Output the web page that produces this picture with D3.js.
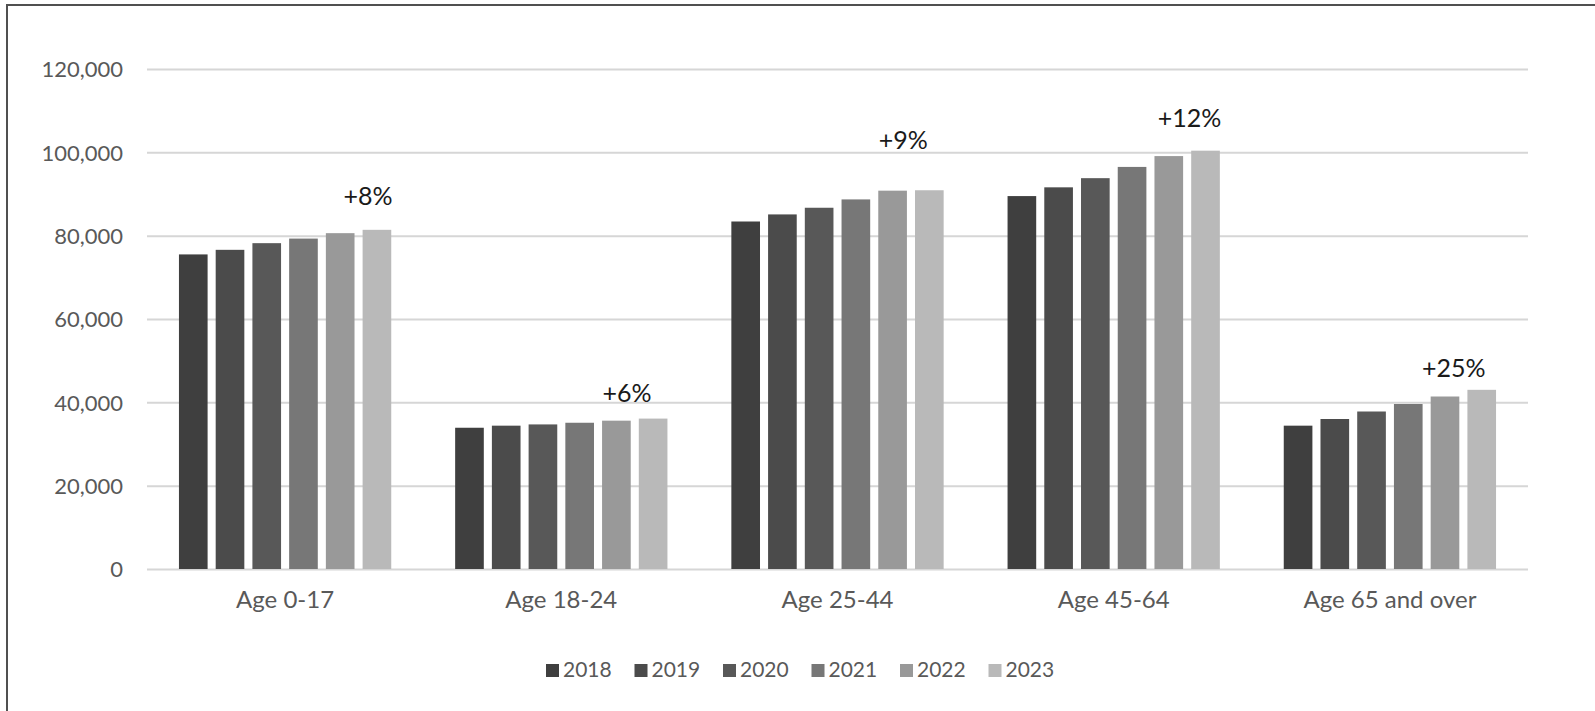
<!doctype html>
<html>
<head>
  <meta charset="utf-8">
  <title>Population by age group, 2018-2023</title>
  <script src="https://cdn.jsdelivr.net/npm/d3@7"></script>
  <style>
  html, body { margin: 0; background: #fff; overflow: hidden; }
  svg { display: block; font-family: Lato, "Open Sans", sans-serif; }
  .grid line { stroke: #d6d6d6; stroke-width: 2px; }
  .grid .domain { display: none; }
  .tick text { fill: #595959; }
  </style>
</head>
<body>
  <script>
  // data
  var categories = ["Age 0-17", "Age 18-24", "Age 25-44", "Age 45-64", "Age 65 and over"];
  var years = ["2018", "2019", "2020", "2021", "2022", "2023"];
  var v2018 = [75500, 33900, 83400, 89500, 34400];
  var v2019 = [76600, 34400, 85100, 91600, 36000];
  var v2020 = [78200, 34700, 86700, 93800, 37800];
  var v2021 = [79300, 35100, 88700, 96500, 39600];
  var v2022 = [80600, 35600, 90800, 99100, 41400];
  var v2023 = [81400, 36100, 90900, 100400, 43000];
  var changeLabels = ["+8%", "+6%", "+9%", "+12%", "+25%"];
  var yTicks = [0, 20000, 40000, 60000, 80000, 100000, 120000];

  var series = [v2018, v2019, v2020, v2021, v2022, v2023];
  var colors = ["#3f3f3f", "#4b4b4b", "#585858", "#777777", "#999999", "#b9b9b9"];
  // hand-placed text boxes in the original: nudge from the last bar
  var labelNudge = [[-9, -25], [-26, -17], [-26, -41], [-16, -24], [-28, -13]];

  var width = 1595, height = 711,
    margin = {top: 69, right: 67, bottom: 142, left: 147};

  var svg = d3.select("body").append("svg")
      .attr("width", width)
      .attr("height", height);

  // outer frame (cut off on the right and bottom in the scan)
  svg.append("path")
      .attr("d", "M7," + (height + 50) + "V5H" + (width + 50))
      .attr("fill", "none")
      .attr("stroke", "#505050")
      .attr("stroke-width", 2);

  var x0 = d3.scaleBand()
      .domain(categories)
      .range([margin.left, width - margin.right]);

  var x1 = d3.scaleBand()
      .domain(years)
      .range([0, x0.bandwidth()])
      .paddingInner(0.22)
      .paddingOuter(0.87);

  var y = d3.scaleLinear()
      .domain([0, 120000])
      .range([height - margin.bottom, margin.top]);

  svg.append("g")
      .attr("class", "grid")
      .attr("transform", "translate(" + margin.left + ",0)")
      .call(d3.axisLeft(y)
        .tickValues(yTicks)
        .tickSize(-(width - margin.left - margin.right))
        .tickPadding(24)
        .tickFormat(d3.format(",")))
      .attr("font-family", null)
      .attr("font-size", null)
      .call(function(g) {
        g.selectAll("text").style("font-size", "22px").attr("dy", "0.36em");
      });

  var rows = categories.map(function(c, i) {
    return {cat: c, values: years.map(function(yr, j) { return {year: yr, value: series[j][i], k: j}; })};
  });

  var groups = svg.append("g").selectAll("g")
    .data(rows)
    .enter().append("g")
      .attr("transform", function(d) { return "translate(" + x0(d.cat) + ",0)"; });

  groups.selectAll("rect")
    .data(function(d) { return d.values; })
    .enter().append("rect")
      .attr("x", function(d) { return x1(d.year); })
      .attr("y", function(d) { return y(d.value); })
      .attr("width", x1.bandwidth())
      .attr("height", function(d) { return y(0) - y(d.value); })
      .attr("fill", function(d) { return colors[d.k]; });

  // percent change labels
  groups.append("text")
      .attr("x", function(d, i) { return x1("2023") + x1.bandwidth() / 2 + labelNudge[i][0]; })
      .attr("y", function(d, i) { return y(d.values[5].value) + labelNudge[i][1]; })
      .attr("text-anchor", "middle")
      .style("font-size", "25px")
      .style("fill", "#1a1a1a")
      .text(function(d, i) { return changeLabels[i]; });

  var xAxis = svg.append("g")
      .attr("transform", "translate(0," + y(0) + ")")
      .call(d3.axisBottom(x0).tickSize(0).tickPadding(22))
      .attr("font-family", null)
      .attr("font-size", null);
  xAxis.select(".domain").remove();
  xAxis.selectAll("text").style("font-size", "24px");

  // legend
  var legend = svg.append("g")
      .attr("transform", "translate(546,664)")
    .selectAll("g")
    .data(years)
    .enter().append("g")
      .attr("transform", function(d, i) { return "translate(" + (i * 88.5) + ",0)"; });

  legend.append("rect")
      .attr("width", 13).attr("height", 13)
      .attr("fill", function(d, i) { return colors[i]; });

  legend.append("text")
      .attr("x", 17).attr("y", 13)
      .style("font-size", "21px")
      .style("fill", "#595959")
      .text(function(d) { return d; });
  </script>
</body>
</html>
